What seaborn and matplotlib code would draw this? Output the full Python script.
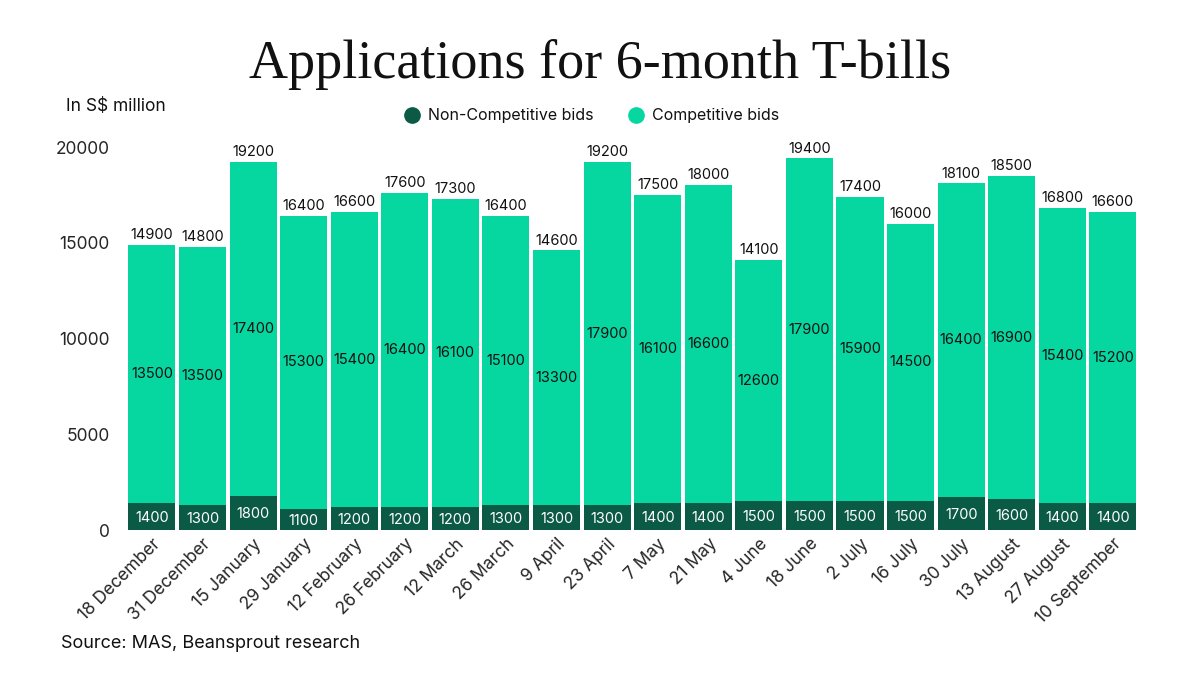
import pandas as pd
import matplotlib.pyplot as plt
import seaborn as sns

# Auction dates and bids (S$ million)
dates = ["18 December", "31 December", "15 January", "29 January", "12 February",
         "26 February", "12 March", "26 March", "9 April", "23 April", "7 May",
         "21 May", "4 June", "18 June", "2 July", "16 July", "30 July",
         "13 August", "27 August", "10 September"]
non_competitive = [1400, 1300, 1800, 1100, 1200, 1200, 1200, 1300, 1300, 1300,
                   1400, 1400, 1500, 1500, 1500, 1500, 1700, 1600, 1400, 1400]
competitive = [13500, 13500, 17400, 15300, 15400, 16400, 16100, 15100, 13300, 17900,
               16100, 16600, 12600, 17900, 15900, 14500, 16400, 16900, 15400, 15200]
totals = [14900, 14800, 19200, 16400, 16600, 17600, 17300, 16400, 14600, 19200,
          17500, 18000, 14100, 19400, 17400, 16000, 18100, 18500, 16800, 16600]

df = pd.DataFrame({"date": dates, "non": non_competitive,
                   "comp": competitive, "total": totals})

DARK = "#0a5a45"
TEAL = "#06d6a0"

sns.set_theme(style="white")
plt.rcParams['font.family'] = ['Inter', 'DejaVu Sans']

fig = plt.figure(figsize=(12, 6.75), dpi=100)
ax = fig.add_axes([0.1055, 0.2148, 0.843, 0.5816])

# stacked: draw total in teal, then non-competitive over it
sns.barplot(data=df, x="date", y="total", color=TEAL, width=0.93,
            saturation=1, edgecolor="none", ax=ax)
sns.barplot(data=df, x="date", y="non", color=DARK, width=0.93,
            saturation=1, edgecolor="none", ax=ax)

for i, row in df.iterrows():
    ax.text(i, row["total"] + 150, f"{row['total']}", ha="center", va="bottom",
            fontsize=10.5, color="#111111")
    ax.text(i, row["non"] + row["comp"] / 2, f"{row['comp']}", ha="center",
            va="center", fontsize=10.5, color="#111111")
    ax.text(i, row["non"] / 2 - 80, f"{row['non']}", ha="center", va="center",
            fontsize=10.5, color="white")

ax.set_xlim(-0.5, len(dates) - 0.5)
ax.set_ylim(0, 20500)
ax.set_yticks([0, 5000, 10000, 15000, 20000])
ax.set_yticklabels(["0", "5000", "10000", "15000", "20000"], fontsize=12.5)
ax.tick_params(axis="y", length=0, pad=12)
ax.tick_params(axis="x", length=0, pad=4)
ax.set_xticks(range(len(dates)))
ax.set_xticklabels(dates, rotation=45, ha="right", rotation_mode="anchor",
                   fontsize=12.5)
ax.set_xlabel("")
ax.set_ylabel("")
sns.despine(ax=ax, left=True, bottom=True)

fig.text(0.5, 0.905, "Applications for 6-month T-bills", ha="center",
         va="center", fontsize=39, family=["Liberation Serif", "DejaVu Serif"],
         color="#111111")
fig.text(0.055, 0.842, "In S$ million", ha="left", va="center",
         fontsize=12.5, color="#111111")
fig.text(0.051, 0.047, "Source: MAS, Beansprout research", ha="left",
         va="center", fontsize=13, color="#111111")

# legend
for xm, xt, label, c in [(0.343, 0.357, "Non-Competitive bids", DARK),
                          (0.530, 0.543, "Competitive bids", TEAL)]:
    fig.add_artist(plt.Line2D([xm], [0.829], marker="o", markersize=11,
                              color=c, linestyle="none",
                              transform=fig.transFigure))
    fig.text(xt, 0.829, label, ha="left", va="center", fontsize=11.5,
             color="#111111")

fig.savefig("out.png", dpi=100)
